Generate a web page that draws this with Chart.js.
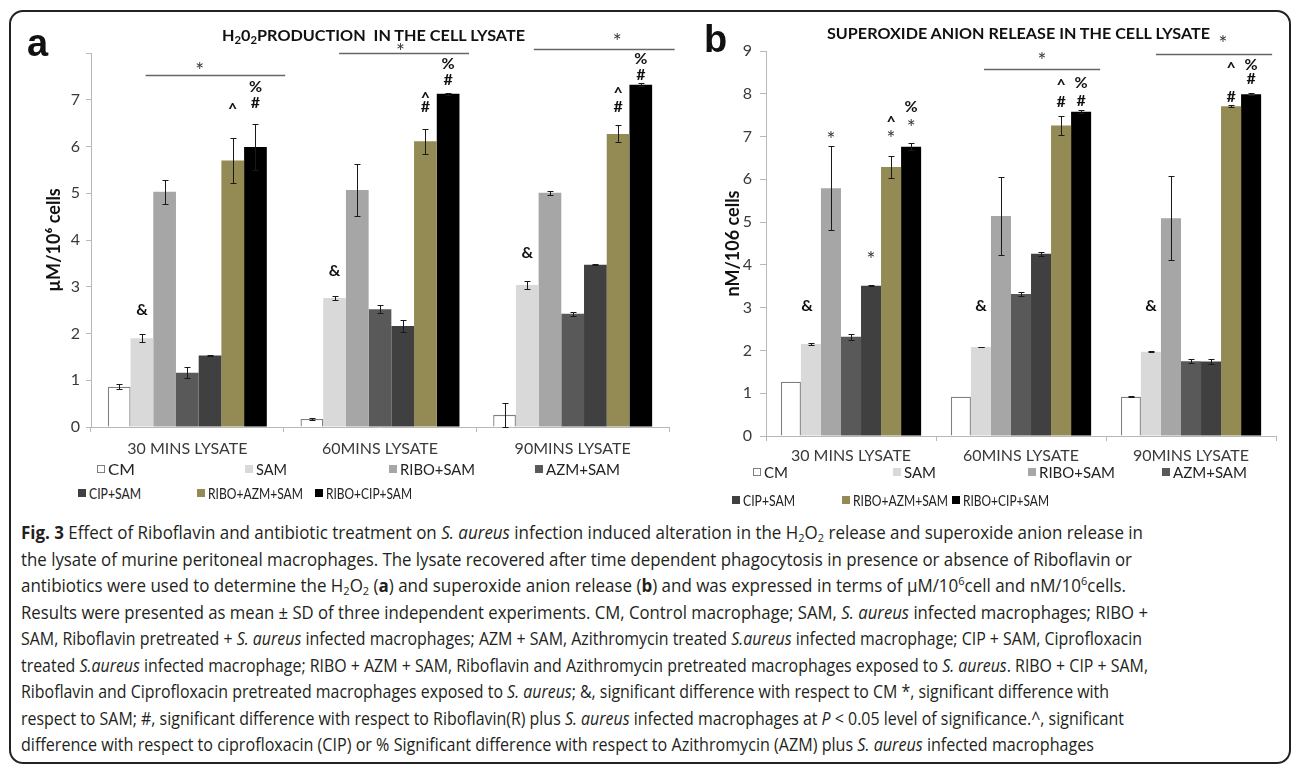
<!DOCTYPE html>
<html>
<head>
<meta charset="utf-8">
<script src="https://cdn.jsdelivr.net/npm/chart.js@4.4.1/dist/chart.umd.min.js"></script>
<style>
  body { margin:0; background:#fff; width:1292px; height:766px; position:relative; overflow:hidden; font-family:Lato, sans-serif; }
  .abs { position:absolute; white-space:nowrap; }
  #frame { position:absolute; left:9px; top:10px; width:1282px; height:754px; border:2px solid #222; border-radius:14px; box-sizing:border-box; }
  canvas { position:absolute; top:0; }
  .panel { font:bold 38px "Liberation Sans", Arial, sans-serif; line-height:38px; color:#111; }
  .title { font:bold 16px Lato; line-height:16px; color:#111; transform-origin:0 0; }
  .title sub { font-size:70%; vertical-align:-0.25em; line-height:0; }
  .leg { font:16px Lato; color:#222; line-height:16px; transform-origin:0 0; }
  .sw { position:absolute; width:8px; height:8px; box-sizing:border-box; }
  .cap { font:17.5px "Open Sans"; color:#231f20; line-height:20px; transform-origin:0 0; }
  .cap sub, .cap sup { font-size:65%; line-height:0; }
  .cap sub { vertical-align:-0.3em; }
  .cap sup { vertical-align:0.6em; }
</style>
</head>
<body>
<div id="frame"></div>
<canvas id="chartA" width="690" height="480" style="left:0px"></canvas>
<canvas id="chartB" width="602" height="480" style="left:690px"></canvas>
<div class="abs panel" style="left:27px;top:24px">a</div>
<div class="abs panel" style="left:704px;top:20px">b</div>
<div class="abs title" id="titleA" style="left:222px;top:26.5px">H<sub>2</sub>0<sub>2</sub>PRODUCTION&nbsp; IN THE CELL LYSATE</div>
<div class="abs title" id="titleB" style="left:827px;top:24.5px">SUPEROXIDE ANION RELEASE IN THE CELL LYSATE</div>
<div id="legends"></div>
<div id="caption"></div>
<script>
// categories and series
const groups = ['30 MINS LYSATE', '60MINS LYSATE', '90MINS LYSATE'];
const seriesNames = ['CM', 'SAM', 'RIBO+SAM', 'AZM+SAM', 'CIP+SAM', 'RIBO+AZM+SAM', 'RIBO+CIP+SAM'];
const seriesColors = ['#ffffff', '#d9d9d9', '#a6a6a6', '#595959', '#404040', '#948a54', '#000000'];

// panel a: H2O2 (uM/10^6 cells), one row per series, one value per group
const h2o2Mean = [
  [0.86, 0.17, 0.26],
  [1.90, 2.76, 3.04],
  [5.03, 5.07, 5.01],
  [1.16, 2.52, 2.42],
  [1.53, 2.16, 3.47],
  [5.70, 6.11, 6.27],
  [5.99, 7.13, 7.32]
];
const h2o2Sd = [
  [0.05, 0.03, 0.25],
  [0.08, 0.05, 0.09],
  [0.25, 0.55, 0.04],
  [0.12, 0.08, 0.05],
  [0.02, 0.13, 0.01],
  [0.49, 0.26, 0.18],
  [0.50, 0.02, 0.03]
];
const h2o2Ticks = [0, 1, 2, 3, 4, 5, 6, 7];
const h2o2AxisMax = 8;

// panel b: superoxide (nM/10^6 cells)
const superMean = [
  [1.27, 0.92, 0.92],
  [2.15, 2.08, 1.97],
  [5.79, 5.14, 5.09],
  [2.32, 3.32, 1.75],
  [3.51, 4.26, 1.74],
  [6.29, 7.26, 7.71],
  [6.76, 7.58, 7.99]
];
const superSd = [
  [0, 0, 0.01],
  [0.02, 0.01, 0.01],
  [0.98, 0.92, 0.98],
  [0.07, 0.05, 0.05],
  [0.01, 0.05, 0.05],
  [0.26, 0.22, 0.02],
  [0.08, 0.03, 0.02]
];
const superTicks = [0, 1, 2, 3, 4, 5, 6, 7, 8, 9];
const superAxisMax = 9;

// significance marks: [group, series, symbol, value level]
const h2o2Marks = [
  [0, 1, '&', 2.51], [0, 5, '^', 6.87], [0, 6, '#', 6.94], [0, 6, '%', 7.28],
  [1, 1, '&', 3.34], [1, 5, '#', 6.85], [1, 5, '^', 7.11], [1, 6, '#', 7.43], [1, 6, '%', 7.77],
  [2, 1, '&', 3.73], [2, 5, '#', 6.85], [2, 5, '^', 7.22], [2, 6, '#', 7.54], [2, 6, '%', 7.88]
];
const superMarks = [
  [0, 0.8, '&', 3.04], [0, 2, '*', 7.03], [0, 4, '*', 4.23], [0, 5, '*', 7.06], [0, 5, '^', 7.41],
  [0, 6, '*', 7.31], [0, 6, '%', 7.69],
  [1, 1, '&', 3.04], [1, 5, '#', 7.80], [1, 5, '^', 8.27], [1, 6, '#', 7.83], [1, 6, '%', 8.25],
  [2, 1, '&', 3.04], [2, 5, '#', 7.94], [2, 5, '^', 8.67], [2, 6, '#', 8.34], [2, 6, '%', 8.67]
];
// bracket lines: [group, from series, to series, level, star series, star level]
const h2o2Brackets = [
  [0, 1.66, 6.81, 7.52, 3.55, 7.71],
  [1, 1.70, 6.42, 8.00, 3.90, 8.12],
  [2, 1.79, 6.99, 8.09, 4.96, 8.33]
];
const superBrackets = [
  [1, 1.65, 6.45, 8.57, 4.05, 8.88],
  [2, 1.75, 6.55, 8.93, 4.60, 9.28]
];

function barX(chart, g, s) {
  const i0 = Math.max(0, Math.min(5, Math.floor(s)));
  const a = chart.getDatasetMeta(i0).data[g].x;
  const b = chart.getDatasetMeta(i0 + 1).data[g].x;
  return a + (b - a) * (s - i0);
}

const errorBars = {
  id: 'errorBars',
  afterDatasetsDraw(chart, args, opts) {
    const ctx = chart.ctx, y = chart.scales.y;
    ctx.save();
    ctx.strokeStyle = '#1a1a1a';
    ctx.lineWidth = 1;
    opts.sd.forEach((row, i) => {
      const meta = chart.getDatasetMeta(i);
      row.forEach((e, j) => {
        if (!e) return;
        const v = chart.data.datasets[i].data[j];
        const x = Math.round(meta.data[j].x) + 0.5;
        const y1 = Math.round(y.getPixelForValue(v + e)) + 0.5;
        const y2 = Math.round(y.getPixelForValue(v - e)) + 0.5;
        ctx.beginPath();
        ctx.moveTo(x, y1); ctx.lineTo(x, y2);
        ctx.moveTo(x - 3, y1); ctx.lineTo(x + 3, y1);
        ctx.moveTo(x - 3, y2); ctx.lineTo(x + 3, y2);
        ctx.stroke();
      });
    });
    ctx.restore();
  }
};

function drawStar(ctx, x, py) {
  ctx.font = '21px Lato';
  ctx.fillStyle = '#3a3a3a';
  ctx.fillText('*', x, py + 5);
}

const sigMarks = {
  id: 'sigMarks',
  afterDraw(chart, args, opts) {
    const ctx = chart.ctx, y = chart.scales.y;
    ctx.save();
    ctx.textAlign = 'center';
    ctx.textBaseline = 'middle';
    opts.marks.forEach(([g, s, txt, lvl]) => {
      const x = barX(chart, g, s);
      let py = y.getPixelForValue(lvl);
      if (txt === '*') {
        drawStar(ctx, x, py);
        return;
      }
      ctx.font = 'bold 16px Lato';
      ctx.fillStyle = '#111';
      if (txt === '^') py += 3;
      ctx.fillText(txt, x, py);
    });
    opts.brackets.forEach(([g, s0, s1, lvl, sStar, lvlStar]) => {
      const py = Math.round(y.getPixelForValue(lvl)) + 0.5;
      const half = chart.getDatasetMeta(0).data[g].width / 2;
      ctx.strokeStyle = '#666';
      ctx.lineWidth = 1.5;
      ctx.beginPath();
      ctx.moveTo(barX(chart, g, s0) - half, py);
      ctx.lineTo(barX(chart, g, s1) + half, py);
      ctx.stroke();
      drawStar(ctx, barX(chart, g, sStar), y.getPixelForValue(lvlStar));
    });
    ctx.restore();
  }
};

function makeChart(id, means, sd, ticks, axisMax, yTitle, marks, brackets, pad, yWidth, tickLen, tickPad, xPad) {
  const axisColor = '#b8b8b8';
  return new Chart(document.getElementById(id), {
    type: 'bar',
    data: {
      labels: groups,
      datasets: seriesNames.map((name, i) => ({
        label: name,
        data: means[i],
        backgroundColor: seriesColors[i],
        borderColor: i === 0 ? '#7f7f7f' : seriesColors[i],
        borderWidth: i === 0 ? 1.3 : 0,
        categoryPercentage: 0.825,
        barPercentage: 1
      }))
    },
    options: {
      responsive: false,
      animation: false,
      layout: { padding: pad },
      plugins: {
        legend: { display: false },
        tooltip: { enabled: false },
        errorBars: { sd: sd },
        sigMarks: { marks: marks, brackets: brackets }
      },
      scales: {
        x: {
          grid: { drawOnChartArea: false, tickLength: 5, color: axisColor, offset: true },
          border: { color: axisColor },
          ticks: { font: { family: 'Lato', size: 16 }, color: '#3a3a3a', padding: xPad, maxRotation: 0 },
          afterFit: s => { s.height = 30; }
        },
        y: {
          min: 0,
          max: axisMax,
          grid: { drawOnChartArea: false, tickLength: tickLen, color: axisColor },
          border: { color: axisColor },
          ticks: {
            stepSize: 1,
            font: { family: 'Lato', size: 16 },
            color: '#3a3a3a',
            padding: tickPad,
            callback: v => ticks.includes(v) ? v : ''
          },
          title: { display: true, text: yTitle, font: { family: 'Lato', size: 18, weight: 'bold' }, color: '#111', padding: 0 },
          afterFit: s => { s.width = yWidth; }
        }
      }
    },
    plugins: [errorBars, sigMarks]
  });
}

makeChart('chartA', h2o2Mean, h2o2Sd, h2o2Ticks, h2o2AxisMax, 'µM/10⁶ cells', h2o2Marks, h2o2Brackets,
  { left: 43, right: 21, top: 53, bottom: 23 }, 48, 5, 6, 7);
makeChart('chartB', superMean, superSd, superTicks, superAxisMax, 'nM/106 cells', superMarks, superBrackets,
  { left: 32, right: 16, top: 51, bottom: 14 }, 44, 6, 8, 5);

// legends (Excel-style placement): [swatch x, centre y, text width]
const legendSpots = {
  a: [[97, 469, 27], [245, 469, 31], [389, 469, 75], [535, 469, 74], [78, 493, 52], [197, 493, 95], [315, 493, 86]],
  b: [[753, 472, 24], [893, 472, 32], [1028, 472, 76], [1162, 472, 74], [732, 500, 52], [842, 500, 95], [952, 500, 86]]
};
const legendBox = document.getElementById('legends');
const legendTexts = [];
Object.values(legendSpots).forEach(spots => {
  spots.forEach(([x, cy, w], i) => {
    const sw = document.createElement('div');
    sw.className = 'sw';
    sw.style.left = x + 'px';
    sw.style.top = (cy - 4) + 'px';
    sw.style.background = seriesColors[i];
    if (i === 0) sw.style.border = '1px solid #7f7f7f';
    legendBox.appendChild(sw);
    const t = document.createElement('div');
    t.className = 'abs leg';
    t.style.left = (x + 11) + 'px';
    t.style.top = (cy - 8.5) + 'px';
    t.textContent = seriesNames[i];
    legendBox.appendChild(t);
    legendTexts.push([t, w]);
  });
});

// caption
const captionLines = [
  '<b>Fig. 3</b> Effect of Riboflavin and antibiotic treatment on <i>S. aureus</i> infection induced alteration in the H<sub>2</sub>O<sub>2</sub> release and superoxide anion release in',
  'the lysate of murine peritoneal macrophages. The lysate recovered after time dependent phagocytosis in presence or absence of Riboflavin or',
  'antibiotics were used to determine the H<sub>2</sub>O<sub>2</sub> (<b>a</b>) and superoxide anion release (<b>b</b>) and was expressed in terms of µM/10<sup>6</sup>cell and nM/10<sup>6</sup>cells.',
  'Results were presented as mean ± SD of three independent experiments. CM, Control macrophage; SAM, <i>S. aureus</i> infected macrophages; RIBO +',
  'SAM, Riboflavin pretreated + <i>S. aureus</i> infected macrophages; AZM + SAM, Azithromycin treated <i>S.aureus</i> infected macrophage; CIP + SAM, Ciprofloxacin',
  'treated <i>S.aureus</i> infected macrophage; RIBO + AZM + SAM, Riboflavin and Azithromycin pretreated macrophages exposed to <i>S. aureus</i>. RIBO + CIP + SAM,',
  'Riboflavin and Ciprofloxacin pretreated macrophages exposed to <i>S. aureus</i>; &amp;, significant difference with respect to CM *, significant difference with',
  'respect to SAM; #, significant difference with respect to Riboflavin(R) plus <i>S. aureus</i> infected macrophages at <i>P</i> &lt; 0.05 level of significance.^, significant',
  'difference with respect to ciprofloxacin (CIP) or % Significant difference with respect to Azithromycin (AZM) plus <i>S. aureus</i> infected macrophages'
];
const captionEnds = [1143, 1132, 1126, 1148, 1142, 1148, 1109, 1124, 1094];
const capBox = document.getElementById('caption');
const capEls = captionLines.map((html, i) => {
  const d = document.createElement('div');
  d.className = 'abs cap';
  d.style.left = '21px';
  d.style.top = (522.2 + 26.5 * i) + 'px';
  d.innerHTML = html;
  capBox.appendChild(d);
  return d;
});

function fitWidth(el, w) {
  const actual = el.getBoundingClientRect().width;
  el.style.transform = 'scaleX(' + (w / actual) + ')';
}
document.fonts.ready.then(() => {
  capEls.forEach((el, i) => fitWidth(el, captionEnds[i] - 21));
  legendTexts.forEach(([el, w]) => fitWidth(el, w));
  fitWidth(document.getElementById('titleA'), 303);
  fitWidth(document.getElementById('titleB'), 383);
});
</script>
</body>
</html>
